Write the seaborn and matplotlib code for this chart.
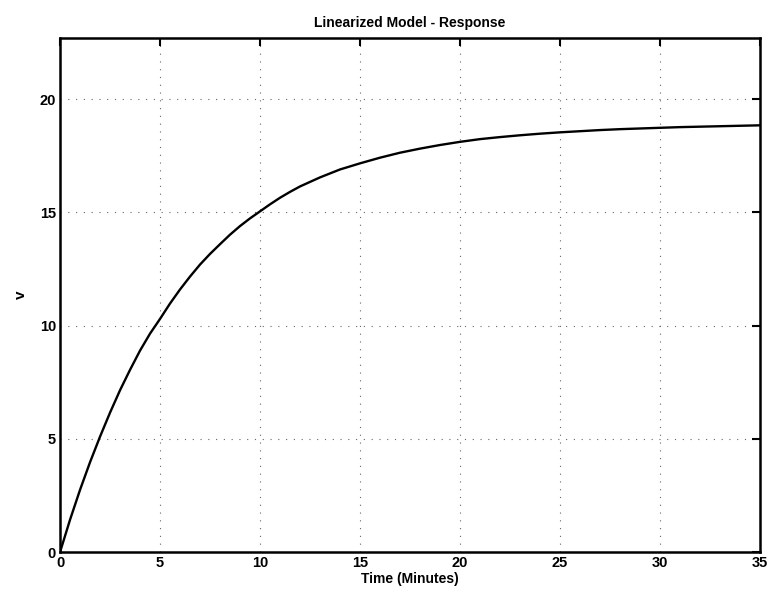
import matplotlib
matplotlib.use("Agg")
import matplotlib.pyplot as plt
import seaborn as sns
import pandas as pd

# Data
time_min = [0, 0.5, 1, 1.5, 2, 2.5, 3, 3.5, 4, 4.5, 5, 5.5, 6, 6.5, 7, 7.5,
            8, 8.5, 9, 9.5, 10, 10.5, 11, 11.5, 12, 13, 14, 15, 16, 17,
            18, 19, 20, 21, 22, 23, 24, 25, 26, 27, 28, 29, 30, 31, 32, 33,
            34, 35]
v_values = [0.0, 1.43, 2.75, 3.97, 5.1, 6.16, 7.15, 8.05, 8.9, 9.65, 10.3,
            10.98, 11.6, 12.17, 12.7, 13.17, 13.6, 14.02, 14.4, 14.74, 15.05,
            15.36, 15.65, 15.91, 16.15, 16.55, 16.9, 17.17, 17.42, 17.64,
            17.82, 17.98, 18.12, 18.24, 18.33, 18.41, 18.48, 18.54, 18.59,
            18.64, 18.68, 18.71, 18.74, 18.77, 18.79, 18.81, 18.83, 18.85]
x_ticks = [0, 5, 10, 15, 20, 25, 30, 35]
y_ticks = [0, 5, 10, 15, 20]

title_text = "Linearized Model - Response"
x_label = "Time (Minutes)"
y_label = "v"

df = pd.DataFrame({"t": time_min, "v": v_values})

sns.set_theme(style="white")
plt.rcParams["font.family"] = ["Liberation Sans", "DejaVu Sans"]
plt.rcParams["text.color"] = "black"
plt.rcParams["axes.labelcolor"] = "black"

fig = plt.figure(figsize=(7.7, 6.01), dpi=100)
ax = fig.add_axes([0.078, 0.0815, 0.909, 0.855])

sns.lineplot(data=df, x="t", y="v", ax=ax, color="black", linewidth=1.7)

ax.set_xlim(0, 35)
ax.set_ylim(0, 22.7)
ax.set_xticks(x_ticks)
ax.set_yticks(y_ticks)
ax.tick_params(direction="in", length=6, width=1.5, top=True, right=True,
               labelsize=10.5, colors="black", pad=3)
for lab in ax.get_xticklabels() + ax.get_yticklabels():
    lab.set_fontweight("bold")

ax.grid(True, color="#666666", linestyle=(0, (1, 6)), linewidth=0.8)
for sp in ax.spines.values():
    sp.set_visible(True)
    sp.set_color("black")
    sp.set_linewidth(1.8)

ax.set_title(title_text, fontsize=10, fontweight="bold", pad=8, color="black")
ax.set_xlabel(x_label, fontsize=10, fontweight="bold", labelpad=1)
ax.set_ylabel(y_label, fontsize=11, fontweight="bold", labelpad=8)

fig.savefig("out.png", dpi=100)
